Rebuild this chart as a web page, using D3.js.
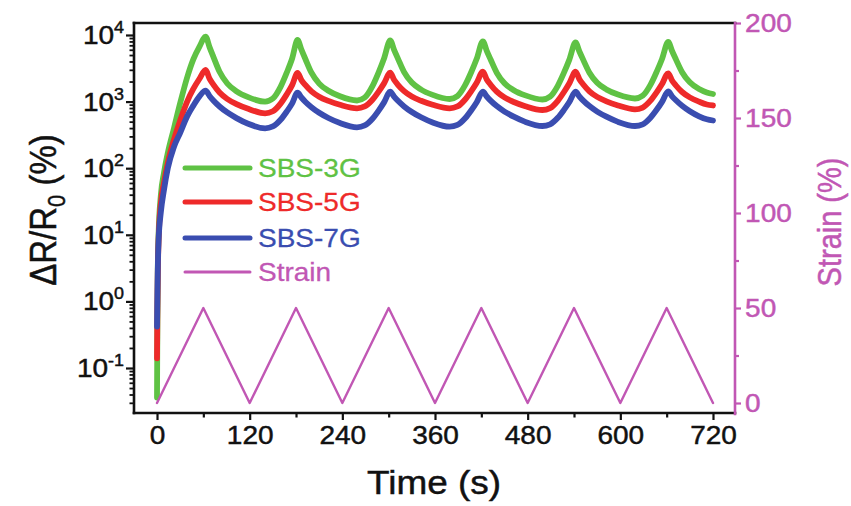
<!DOCTYPE html>
<html><head><meta charset="utf-8">
<script src="https://cdn.jsdelivr.net/npm/d3@7"></script>
<style>body{margin:0;background:#fff}svg{display:block}</style>
</head><body><svg id="c" width="851" height="506"></svg>
<script>
// ---------- data ----------
const timeSBS = [0,0.5,1,2,5,9,14,22,30,39,47,55,
 63,68,73,81,91,103,118,140,150,160,168,175,
 182,187,192,200,210,222,237,259,269,279,287,294,
 302,307,312,320,330,342,357,379,389,399,407,414,
 422,427,432,440,450,462,477,499,509,519,527,534,
 542,547,552,560,570,582,597,619,629,639,647,654,
 662,667,672,680,690,702,712,720];
const sbs3g = [0.036,0.5,3,10,40,85,170,400,950,2300,4300,6700,
 9430,6580,4700,2800,1870,1428,1166,997,1109,1662,2716,4437,
 8410,6015,4399,2716,1864,1453,1201,1039,1152,1709,2754,4437,
 8270,5974,4422,2773,1929,1514,1261,1094,1209,1763,2782,4399,
 7988,5790,4287,2706,1883,1483,1239,1075,1186,1727,2716,4272,
 7716,5653,4228,2716,1916,1520,1274,1113,1226,1781,2792,4369,
 7851,5750,4302,2763,1949,1546,1370,1301];
const sbs5g = [0.14,0.8,2.5,8,30,60,120,270,520,1000,1550,2200,
 2982,2207,1794,1370,1094,914,778,667,715,933,1283,1769,
 2688,2103,1776,1423,1185,1024,895,793,844,1064,1413,1877,
 2716,2125,1788,1433,1189,1028,898,793,844,1075,1438,1922,
 2812,2154,1794,1413,1157,986,853,748,799,1028,1394,1890,
 2812,2169,1806,1428,1177,1007,874,766,815,1031,1375,1831,
 2660,2074,1745,1394,1157,997,905,874];
const sbs7g = [0.42,1.2,3,8,22,47,100,210,340,600,870,1200,
 1458,1214,1039,844,686,565,464,397,423,533,708,940,
 1361,1152,997,824,679,567,476,411,438,552,732,973,
 1408,1189,1028,847,698,581,486,420,446,561,741,979,
 1408,1193,1035,856,708,593,496,430,456,571,751,986,
 1408,1193,1035,856,708,593,496,430,456,573,753,991,
 1418,1201,1046,865,717,602,542,520];
const timeStrain = [0,60,120,180,240,300,360,420,480,540,600,660,720];
const strain = [0,50,0,50,0,50,0,50,0,50,0,50,0];

const xTicks = [0,120,240,360,480,600,720];
const xMinor = [60,180,300,420,540,660];
const yLeftTicks = [0.1,1,10,100,1000,10000];
const yLeftExp = ["-1","0","1","2","3","4"];
const yRightTicks = [0,50,100,150,200];
const yRightMinor = [25,75,125,175];
const legendNames = ["SBS-3G","SBS-5G","SBS-7G","Strain"];

// ---------- styling ----------
const C = {g:"#5fc244", r:"#ee2a2a", b:"#3a4db0", m:"#c157b4"};
const FONT = "'Liberation Sans', Arial, Helvetica, sans-serif";
const SX = 1.12;
const TS = 0.45; // faint text stroke to mimic heavier print

const svg = d3.select("#c");
const L=134, R=735, T=23, B=413;
const x = d3.scaleLinear().domain([-29.8,748.5]).range([L,R]);
const yL = d3.scaleLog().domain([0.0211,15136]).range([B,T]);
const yR = d3.scaleLinear().domain([-5.26,200]).range([B,T]);

const yLeftMinor = [];
for (let e=-2;e<4;e++) for (let k=2;k<10;k++){const v=k*Math.pow(10,e); if(v>=0.0211&&v<=15136) yLeftMinor.push(v);}

// data lines
svg.append("clipPath").attr("id","clp").append("rect")
  .attr("x",L).attr("y",T).attr("width",R-L).attr("height",B-T);
const gData = svg.append("g").attr("clip-path","url(#clp)");
function drawSeries(ts, vs, color, w, yScale, curve){
  const pts = ts.map((t,i)=>[t,vs[i]]);
  gData.append("path").datum(pts)
    .attr("d", d3.line().x(d=>x(d[0])).y(d=>yScale(d[1])).curve(curve))
    .attr("fill","none").attr("stroke",color).attr("stroke-width",w)
    .attr("stroke-linejoin","round").attr("stroke-linecap","round");
}
drawSeries(timeSBS, sbs3g, C.g, 5.8, yL, d3.curveMonotoneX);
drawSeries(timeSBS, sbs5g, C.r, 5.8, yL, d3.curveMonotoneX);
drawSeries(timeSBS, sbs7g, C.b, 5.8, yL, d3.curveMonotoneX);
drawSeries(timeStrain, strain, C.m, 2.4, yR, d3.curveLinear);

// axes
function styleAxis(g, color){
  g.select(".domain").remove();
  g.selectAll(".tick line").attr("stroke",color).attr("stroke-width",2.2);
  g.selectAll("text").attr("font-family",FONT);
}
const axL = svg.append("g").attr("transform",`translate(${L},0)`)
  .call(d3.axisLeft(yL).tickValues(yLeftTicks).tickSize(8).tickFormat(""));
styleAxis(axL,"#111");
const axLm = svg.append("g").attr("transform",`translate(${L},0)`)
  .call(d3.axisLeft(yL).tickValues(yLeftMinor).tickSize(4.5).tickFormat(""));
styleAxis(axLm,"#111"); axLm.selectAll(".tick line").attr("stroke-width",1.8);

yLeftTicks.forEach((v,i)=>{
  const t = svg.append("text").attr("font-family",FONT).attr("fill","#111")
    .attr("stroke","#111").attr("stroke-width",TS)
    .attr("text-anchor","end")
    .attr("transform",`translate(${L-10},${yL(v)+9}) scale(${SX},1)`);
  t.append("tspan").attr("font-size",25).text("10");
  t.append("tspan").attr("font-size",16).attr("dy",-11).text(yLeftExp[i]);
});

const axB = svg.append("g").attr("transform",`translate(0,${B})`)
  .call(d3.axisBottom(x).tickValues(xTicks).tickSize(7).tickPadding(6).tickFormat(d3.format("d")));
styleAxis(axB,"#111");
axB.selectAll("text").attr("font-size",25).attr("fill","#111")
  .attr("stroke","#111").attr("stroke-width",TS).attr("transform",`scale(${SX},1)`);
const axBm = svg.append("g").attr("transform",`translate(0,${B})`)
  .call(d3.axisBottom(x).tickValues(xMinor).tickSize(4.5).tickFormat(""));
styleAxis(axBm,"#111");

const axR = svg.append("g").attr("transform",`translate(${R},0)`)
  .call(d3.axisRight(yR).tickValues(yRightTicks).tickSize(6).tickPadding(3).tickFormat(d3.format("d")));
styleAxis(axR,C.m);
axR.selectAll("text").attr("font-size",25).attr("fill",C.m)
  .attr("stroke",C.m).attr("stroke-width",TS).attr("transform",`scale(${SX},1)`);
const axRm = svg.append("g").attr("transform",`translate(${R},0)`)
  .call(d3.axisRight(yR).tickValues(yRightMinor).tickSize(4).tickFormat(""));
styleAxis(axRm,C.m);

// frame
const fr = svg.append("g").attr("stroke-width",2.6).attr("stroke-linecap","square");
fr.append("line").attr("x1",L).attr("x2",R).attr("y1",T).attr("y2",T).attr("stroke","#111");
fr.append("line").attr("x1",L).attr("x2",R).attr("y1",B).attr("y2",B).attr("stroke","#111");
fr.append("line").attr("x1",L).attr("x2",L).attr("y1",T).attr("y2",B).attr("stroke","#111");
fr.append("line").attr("x1",R).attr("x2",R).attr("y1",T).attr("y2",B+1).attr("stroke",C.m);

// titles
const yt = svg.append("text").attr("font-family",FONT).attr("font-size",33).attr("fill","#111")
  .attr("stroke","#111").attr("stroke-width",TS)
  .attr("text-anchor","middle").attr("transform",`translate(56,210) scale(${SX},1) rotate(-90)`);
yt.append("tspan").text("ΔR/R");
yt.append("tspan").attr("font-size",22).attr("dy",8).text("0");
yt.append("tspan").attr("dy",-8).text(" (%)");

svg.append("text").attr("font-family",FONT).attr("font-size",33).attr("fill","#111")
  .attr("stroke","#111").attr("stroke-width",TS)
  .attr("text-anchor","middle").attr("transform",`translate(434,494) scale(${SX},1)`).text("Time (s)");

svg.append("text").attr("font-family",FONT).attr("font-size",29).attr("fill",C.m)
  .attr("stroke",C.m).attr("stroke-width",TS)
  .attr("text-anchor","middle").attr("transform",`translate(841,222) scale(${SX},1) rotate(-90)`).text("Strain (%)");

// legend
const legColors = [C.g,C.r,C.b,C.m];
const legW = [5,5,5,3];
const legY = [168,202,238,272];
legendNames.forEach((n,i)=>{
  svg.append("line").attr("x1",185).attr("x2",250).attr("y1",legY[i]).attr("y2",legY[i])
    .attr("stroke",legColors[i]).attr("stroke-width",legW[i]).attr("stroke-linecap","round");
  svg.append("text").attr("font-family",FONT).attr("font-size",25).attr("fill",legColors[i])
    .attr("stroke",legColors[i]).attr("stroke-width",TS*0.6)
    .attr("transform",`translate(258,${legY[i]+9}) scale(${SX},1)`).text(n);
});
</script></body></html>
